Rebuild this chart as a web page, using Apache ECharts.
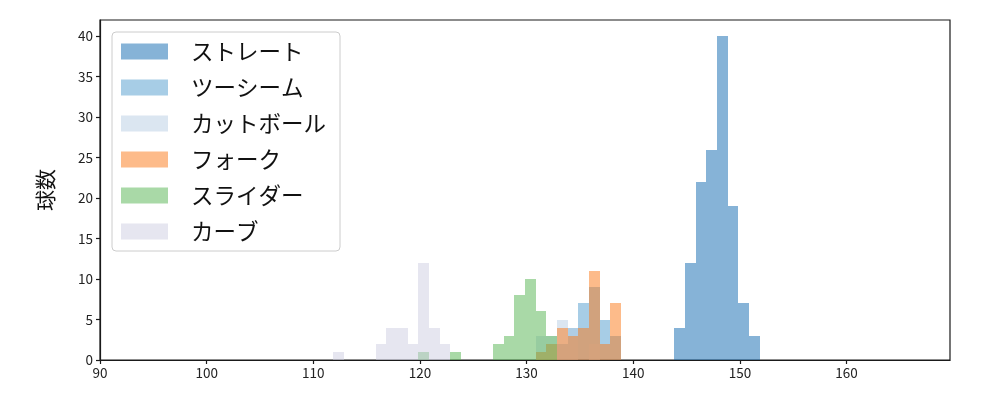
<!DOCTYPE html>
<html>
<head>
<meta charset="utf-8">
<script src="https://cdn.jsdelivr.net/npm/echarts@6/dist/echarts.min.js"></script>
<style>
html,body{margin:0;padding:0;background:#fff;}
#chart{width:1000px;height:400px;}
</style>
</head>
<body>
<div id="chart"></div>
<script>
// Bin width (km/h) and series data
const binWidth = 1;
const seriesNames = ['ストレート', 'ツーシーム', 'カットボール', 'フォーク', 'スライダー', 'カーブ'];
const straightStart = 143.85;
const straightCounts = [4, 12, 22, 26, 40, 19, 7, 3];
const twoSeamStart = 132.85;
const twoSeamCounts = [2, 4, 7, 9, 5, 3];
const cutterStart = 130.85;
const cutterCounts = [3, 3, 5, 4, 0, 2];
const forkStart = 130.85;
const forkCounts = [1, 2, 4, 3, 4, 11, 2, 7];
const sliderStart = 119.85;
const sliderCounts = [1, 0, 0, 1, 0, 0, 0, 2, 3, 8, 10, 6, 3];
const curveStart = 111.85;
const curveCounts = [1, 0, 0, 0, 2, 4, 4, 2, 12, 4, 2];
const xTicks = [90, 100, 110, 120, 130, 140, 150, 160];
const yTicks = [0, 5, 10, 15, 20, 25, 30, 35, 40];

const colors = [
  'rgba(13,103,175,0.5)',
  'rgba(79,155,205,0.5)',
  'rgba(183,205,227,0.5)',
  'rgba(251,119,21,0.5)',
  'rgba(83,179,79,0.5)',
  'rgba(205,205,225,0.5)'
];

function bins(start, counts) {
  return counts.map((c, i) => [start + i * binWidth, start + (i + 1) * binWidth, c]);
}
const allData = [
  bins(straightStart, straightCounts),
  bins(twoSeamStart, twoSeamCounts),
  bins(cutterStart, cutterCounts),
  bins(forkStart, forkCounts),
  bins(sliderStart, sliderCounts),
  bins(curveStart, curveCounts)
];

function renderItem(params, api) {
  const x0 = api.value(0), x1 = api.value(1), c = api.value(2);
  if (!c) return null;
  const p0 = api.coord([x0, c]);
  const p1 = api.coord([x1, 0]);
  const left = Math.round(p0[0]), right = Math.round(p1[0]);
  const top = Math.round(p0[1]), bottom = Math.round(p1[1]);
  return {
    type: 'rect',
    shape: { x: left, y: top, width: right - left, height: bottom - top },
    style: { fill: api.visual('color') }
  };
}

const chart = echarts.init(document.getElementById('chart'), null, { renderer: 'canvas' });
const fontFam = '"Noto Sans CJK JP", "DejaVu Sans", sans-serif';
chart.setOption({
  animation: false,
  grid: { left: 100, right: 50, top: 20, bottom: 40, show: true, borderColor: '#1a1a1a', borderWidth: 1.2, backgroundColor: 'transparent' },
  xAxis: {
    type: 'value', min: 90, max: 169.7, interval: 10,
    axisLine: { show: true, lineStyle: { color: '#1a1a1a', width: 1.2 } },
    axisTick: { show: true, inside: false, length: 4, customValues: xTicks, lineStyle: { color: '#1a1a1a', width: 1.2 } },
    axisLabel: { color: '#222', fontSize: 13.5, fontFamily: fontFam, margin: 6, customValues: xTicks },
    splitLine: { show: false }
  },
  yAxis: {
    type: 'value', min: 0, max: 42, interval: 5,
    name: '球数', nameLocation: 'middle', nameGap: 44, nameRotate: 90,
    nameTextStyle: { fontSize: 21, color: '#111', fontFamily: fontFam },
    axisLine: { show: true, lineStyle: { color: '#1a1a1a', width: 1.2 } },
    axisTick: { show: true, inside: false, length: 4, customValues: yTicks, lineStyle: { color: '#1a1a1a', width: 1.2 } },
    axisLabel: { color: '#222', fontSize: 13.5, fontFamily: fontFam, margin: 7, customValues: yTicks },
    splitLine: { show: false }
  },
  legend: {
    orient: 'vertical', left: 112, top: 32,
    padding: [8, 14, 8, 9],
    itemWidth: 47, itemHeight: 16, itemGap: 13,
    backgroundColor: 'rgba(255,255,255,0.85)',
    borderColor: '#cccccc', borderWidth: 1, borderRadius: 4,
    textStyle: { fontSize: 22.5, color: '#111', fontFamily: fontFam, lineHeight: 23, padding: [0, 0, 0, 18] },
    data: seriesNames.map((n, i) => ({ name: n, icon: 'rect', itemStyle: { color: colors[i] } }))
  },
  series: seriesNames.map((n, i) => ({
    name: n, type: 'custom', renderItem: renderItem,
    itemStyle: { color: colors[i] },
    encode: { x: [0, 1], y: 2 },
    data: allData[i],
    z: 2 + i
  }))
});
</script>
</body>
</html>
